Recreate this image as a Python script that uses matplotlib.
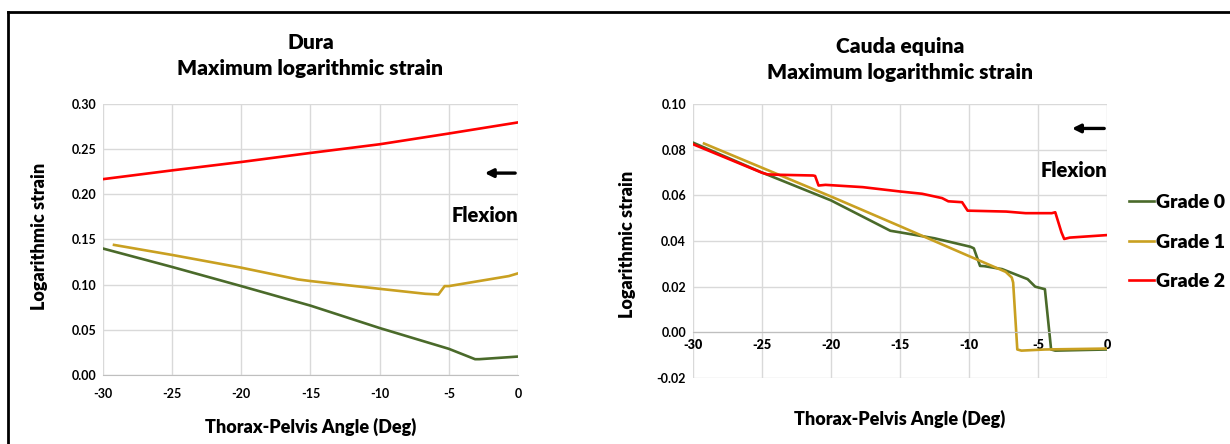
import matplotlib.pyplot as plt
from matplotlib.lines import Line2D

plt.rcParams['font.family'] = ['Lato', 'DejaVu Sans']
plt.rcParams['font.weight'] = 'heavy'
plt.rcParams['axes.unicode_minus'] = False

W = 'heavy'
GREEN = '#4a6a2a'
GOLD = '#c9a021'
RED = '#ff0000'
GRID = '#d9d9d9'

# Dura
dura_g0_x = [-30, -25, -20, -15, -10, -5, -3.1, -2.8, 0]
dura_g0_y = [0.140, 0.1196, 0.0984, 0.0768, 0.0520, 0.029, 0.0175, 0.0175, 0.0204]
dura_g1_x = [-29.2, -25, -20, -15.9, -15, -10, -6.7, -5.75, -5.3, -5, -0.66, 0]
dura_g1_y = [0.144, 0.1329, 0.1188, 0.1058, 0.104, 0.0954, 0.0899, 0.0891, 0.0984, 0.0984, 0.1095, 0.1125]
dura_g2_x = [-30, -25, -20, -15, -10, -5, 0]
dura_g2_y = [0.2168, 0.2265, 0.2358, 0.2458, 0.2554, 0.2673, 0.2796]

# Cauda equina
ce_g0_x = [-30, -25, -20, -15.7, -15, -12.5, -9.9, -9.65, -9.2, -8.9, -7.6, -5.75, -5.2, -4.5,
           -4.05, -3.75, 0]
ce_g0_y = [0.0831, 0.070, 0.0578, 0.0445, 0.0438, 0.0412, 0.0375, 0.0368, 0.0291, 0.029, 0.0277,
           0.0233, 0.020, 0.0189, -0.0075, -0.008, -0.0075]
ce_g1_x = [-29.2, -20, -15, -10, -7.34, -6.9, -6.8, -6.5, -6.2, -4.5, 0]
ce_g1_y = [0.0827, 0.0595, 0.0465, 0.0334, 0.0265, 0.024, 0.0218, -0.0075, -0.008, -0.0075, -0.0071]
ce_g2_x = [-30, -25, -24.6, -23.7, -21.3, -21.15, -20.9, -20.4, -17.7, -15, -13.4, -11.95, -11.5,
           -10.5, -10.1, -7.3, -5.9, -4.0, -3.75, -3.3, -3.1, -2.7, 0]
ce_g2_y = [0.0824, 0.0699, 0.0692, 0.0690, 0.0687, 0.0685, 0.0643, 0.0646, 0.0636, 0.0617, 0.0607,
           0.0588, 0.0574, 0.057, 0.0533, 0.0529, 0.0522, 0.0522, 0.0526, 0.0438, 0.0409, 0.0415, 0.0426]

x_ticks = [-30, -25, -20, -15, -10, -5, 0]
dura_yticks = [0.00, 0.05, 0.10, 0.15, 0.20, 0.25, 0.30]
ce_yticks = [-0.02, 0.00, 0.02, 0.04, 0.06, 0.08, 0.10]

fig = plt.figure(figsize=(12.3, 4.44), dpi=100)
ax1 = fig.add_axes([0.0837, 0.1554, 0.3374, 0.6104])
ax2 = fig.add_axes([0.5634, 0.1486, 0.3366, 0.6171])

# frame around the figure (top and left visible)
fig.add_artist(Line2D([0.0065, 0.0065], [0, 0.973], color='black', lw=2))
fig.add_artist(Line2D([0.0065, 1], [0.973, 0.973], color='black', lw=2))


def style(ax, yticks):
    ax.set_xlim(-30, 0)
    ax.set_ylim(yticks[0], yticks[-1])
    ax.set_xticks(x_ticks)
    ax.set_yticks(yticks)
    ax.set_yticklabels([f'{v:.2f}' for v in yticks])
    ax.grid(True, color=GRID, lw=1)
    ax.set_axisbelow(True)
    for s in ['top', 'right', 'left']:
        ax.spines[s].set_visible(False)
    ax.spines['bottom'].set_color('#bfbfbf')
    ax.tick_params(length=0, labelsize=9, pad=5)
    for lab in ax.get_xticklabels() + ax.get_yticklabels():
        lab.set_fontweight('bold')
    ax.set_ylabel('Logarithmic strain', fontsize=13, fontweight=W)


style(ax1, dura_yticks)
ax1.yaxis.set_label_coords(-0.133, 0.513)
ax1.plot(dura_g0_x, dura_g0_y, color=GREEN, lw=1.9)
ax1.plot(dura_g1_x, dura_g1_y, color=GOLD, lw=1.9)
ax1.plot(dura_g2_x, dura_g2_y, color=RED, lw=1.9)
ax1.set_title('Dura\nMaximum logarithmic strain', fontsize=15, fontweight=W, pad=21,
              linespacing=1.45)
ax1.set_xlabel('Thorax-Pelvis Angle (Deg)', fontsize=13, fontweight=W, labelpad=13)
ax1.tick_params(axis='x', pad=9)
ax1.annotate('', xy=(-2.6, 0.2235), xytext=(0, 0.2235),
             arrowprops=dict(arrowstyle='-|>', color='black', lw=2.4, mutation_scale=12))
ax1.text(0, 0.1764, 'Flexion', ha='right', va='center', fontsize=14.5, fontweight=W)

style(ax2, ce_yticks)
ax2.yaxis.set_label_coords(-0.137, 0.489)
ax2.spines['bottom'].set_position(('data', 0))
ax2.plot(ce_g0_x, ce_g0_y, color=GREEN, lw=1.9, label='Grade 0')
ax2.plot(ce_g1_x, ce_g1_y, color=GOLD, lw=1.9, label='Grade 1')
ax2.plot(ce_g2_x, ce_g2_y, color=RED, lw=1.9, label='Grade 2')
ax2.set_title('Cauda equina\nMaximum logarithmic strain', fontsize=15, fontweight=W, pad=18,
              linespacing=1.45)
ax2.set_xlabel('Thorax-Pelvis Angle (Deg)', fontsize=13, fontweight=W, labelpad=42)
ax2.annotate('', xy=(-2.74, 0.0893), xytext=(0, 0.0893),
             arrowprops=dict(arrowstyle='-|>', color='black', lw=2.4, mutation_scale=12))
ax2.text(0, 0.0707, 'Flexion', ha='right', va='center', fontsize=14.5, fontweight=W)
leg = ax2.legend(loc='center left', bbox_to_anchor=(1.02, 0.496), frameon=False, fontsize=14,
                 handlelength=1.3, handletextpad=0.1, labelspacing=1.16, borderaxespad=0.3)
for t in leg.get_texts():
    t.set_fontweight(W)

fig.savefig('out.png', dpi=100)
